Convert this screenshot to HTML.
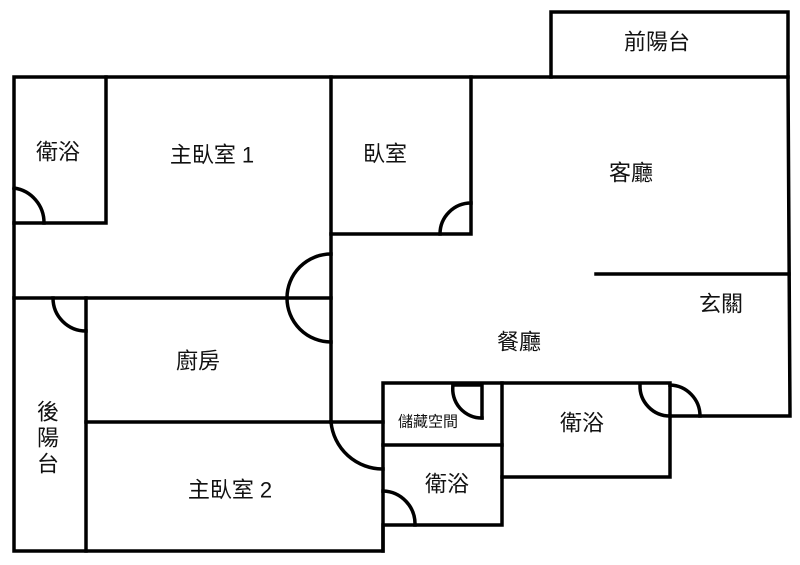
<!DOCTYPE html>
<html><head><meta charset="utf-8"><style>
html,body{margin:0;padding:0;background:#fff}
svg{display:block}
text{font-family:"Liberation Sans","Noto Sans CJK TC",sans-serif;font-size:22px;fill:#111;text-anchor:middle;dominant-baseline:central}
</style></head><body>
<svg width="800" height="565" viewBox="0 0 800 565">
<g fill="none" stroke="#000" stroke-width="3.5" stroke-linecap="square">
<!-- outer -->
<polyline points="551,77 551,12 788,12 788,77"/>
<polyline points="14,77 788,77 790,416 670,416 670,477 502,477 502,525 383,525 383,551 14,551 14,77"/>
<!-- bath top-left -->
<polyline points="106,77 106,223 14,223"/>
<path d="M14,188 A35,35 0 0 1 44,223"/>
<!-- main bed1 right wall / dining left -->
<line x1="331" y1="77" x2="331" y2="422"/>
<line x1="14" y1="298" x2="331" y2="298"/>
<path d="M331,254 A44,44 0 0 0 331,342"/>
<!-- bedroom -->
<polyline points="331,234 471,234 471,77"/>
<path d="M440,234 A31,31 0 0 1 471,203"/>
<!-- back balcony / kitchen -->
<line x1="86" y1="298" x2="86" y2="551"/>
<path d="M53,298 A33,33 0 0 0 86,331"/>
<line x1="86" y1="422" x2="331" y2="422"/>
<line x1="331" y1="422" x2="383" y2="422"/>
<path d="M331,422 A52,52 0 0 0 383,469"/>
<!-- living divider -->
<line x1="596" y1="274" x2="789" y2="274"/>
<!-- storage / baths -->
<polyline points="383,551 383,383 670,383 670,416"/>
<line x1="502" y1="383" x2="502" y2="477"/>
<line x1="383" y1="445" x2="502" y2="445"/>
<polyline points="453,385 482,385 482,418"/>
<path d="M453,385 A29,29 0 0 0 482,418"/>
<path d="M640,385 A30,30 0 0 0 670,416"/>
<path d="M670,385 A31,31 0 0 1 700,416"/>
<path d="M383,491 A33,33 0 0 1 415,525"/>
</g>
<text x="58" y="152">衛浴</text>
<text x="212" y="155">主臥室 1</text>
<text x="385" y="154">臥室</text>
<text x="631" y="173">客廳</text>
<text x="657" y="42">前陽台</text>
<text x="721" y="304">玄關</text>
<text x="519" y="342">餐廳</text>
<text x="198" y="361">廚房</text>
<text x="48" y="412">後</text>
<text x="48" y="438">陽</text>
<text x="48" y="464">台</text>
<text x="230" y="490">主臥室 2</text>
<text x="428" y="422" style="font-size:15px">儲藏空間</text>
<text x="582" y="423">衛浴</text>
<text x="447" y="484">衛浴</text>
</svg>
</body></html>
